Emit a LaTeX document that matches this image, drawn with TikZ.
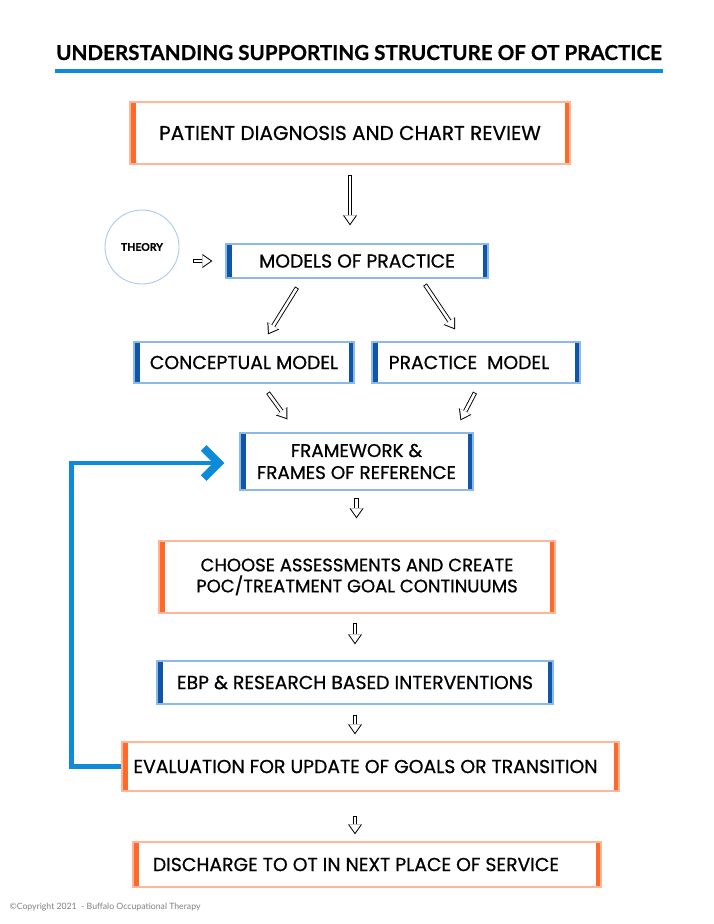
\documentclass[tikz,border=0pt]{standalone}
\usepackage{fontspec}
\newfontfamily\boxfont{Poppins}[FakeBold=0.7]
\newfontfamily\headfont{Lato}[BoldFeatures={FakeBold=0.6}]
\usetikzlibrary{arrows.meta,calc}
\definecolor{orng}{HTML}{FF6A2A}
\definecolor{orngpale}{HTML}{FFB699}
\definecolor{bluedark}{HTML}{0F55A8}
\definecolor{bluepale}{HTML}{8CB9E8}
\definecolor{bluefb}{HTML}{0D8ADA}
\definecolor{circpale}{HTML}{A9C9EA}
\tikzset{
  sidebars/.style={path picture={
    \fill[#1] (path picture bounding box.south west) rectangle ([xshift=5.5pt]path picture bounding box.north west);
    \fill[#1] (path picture bounding box.south east) rectangle ([xshift=-5.5pt]path picture bounding box.north east);}},
  box/.style={fill=white, line width=1.3pt, align=center, inner sep=0pt,
    font=\boxfont\fontsize{18.8}{24}\selectfont},
  obox/.style={box, draw=orngpale, sidebars=orng},
  bbox/.style={box, draw=bluepale, sidebars=bluedark},
  hollow/.style={line width=4.4pt, -{Triangle[length=10pt, width=14pt, line width=0pt]},
    postaction={draw=white, line width=2.6pt, shorten <=0.9pt, shorten >=1.7pt,
      -{Triangle[length=8.3pt, width=11.6pt, line width=0pt]}}},
  feedback/.style={bluefb, line width=4.5pt,
    -{Straight Barb[length=15pt, width=30pt, line width=8pt]}}
}
\begin{document}
\begin{tikzpicture}[x=1pt, y=-1pt]
  \useasboundingbox (0,0) rectangle (714,924);
  % title
  \node[anchor=base, font=\headfont\bfseries\fontsize{20.6}{24}\selectfont] (title) at (359,60)
    {UNDERSTANDING SUPPORTING STRUCTURE OF OT PRACTICE};
  \draw[bluefb, line width=4pt] (55,71) -- (663,71);
  % boxes
  \node[obox, minimum width=440, minimum height=62, font=\boxfont\fontsize{20}{24}\selectfont] (pat) at (350,133)
    {PATIENT DIAGNOSIS AND CHART REVIEW};
  \node[draw=circpale, line width=0.9pt, circle, minimum size=74,
    font=\headfont\bfseries\fontsize{10.5}{12}\selectfont] (theory) at (142,247) {THEORY};
  \node[bbox, minimum width=262, minimum height=34] (mod) at (357,261) {MODELS OF PRACTICE};
  \node[bbox, minimum width=220, minimum height=41] (con) at (244,362.5) {CONCEPTUAL MODEL};
  \node[bbox, minimum width=208, minimum height=41] (pra) at (476,362.5) {PRACTICE\ \ MODEL\kern14pt};
  \node[bbox, minimum width=233, minimum height=57, font=\boxfont\fontsize{18.4}{22}\selectfont] (fra) at (356.5,461.5)
    {FRAMEWORK \&\\FRAMES OF REFERENCE};
  \node[obox, minimum width=396, minimum height=72,
    font=\boxfont\fontsize{18}{21}\selectfont] (cho) at (357,577)
    {CHOOSE ASSESSMENTS AND CREATE\\POC/TREATMENT GOAL CONTINUUMS};
  \node[bbox, minimum width=396, minimum height=43] (ebp) at (355,682.5) {EBP \& RESEARCH BASED INTERVENTIONS};
  \node[obox, minimum width=497, minimum height=49] (eva) at (370.5,766.5)
    {EVALUATION FOR UPDATE OF GOALS OR TRANSITION\kern10pt};
  \node[obox, minimum width=468, minimum height=45] (dis) at (367,864.5)
    {DISCHARGE TO OT IN NEXT PLACE OF SERVICE\kern22pt};
  \node[anchor=west, text=gray, font=\headfont\fontsize{8.7}{10}\selectfont] (copy) at (6,907)
    {©Copyright 2021\ \ - Buffalo Occupational Therapy};
  % hollow arrows
  \draw[hollow] ($(pat.south)+(0,10)$) -- ($(pat.south |- mod.north)+(0,-18)$);
  \draw[hollow] ($(theory.east |- mod.west)+(14,0)$) -- ($(mod.west)+(-13,0)$);
  \draw[hollow] ($(mod.south)+(-60,9)$) -- ($(con.north)+(24,-7)$);
  \draw[hollow] ($(mod.south)+(68,6)$) -- ($(pra.north)+(-21,-12)$);
  \draw[hollow] ($(con.south)+(24,9)$) -- ($(fra.north)+(-69,-13)$);
  \draw[hollow] ($(pra.south)+(-1,9)$) -- ($(fra.north)+(104,-12)$);
  \draw[hollow] ($(fra.south)+(0,7)$) -- ($(fra.south |- cho.north)+(0,-22)$);
  \draw[hollow] ($(cho.south -| ebp.north)+(0,9)$) -- ($(ebp.north)+(0,-16)$);
  \draw[hollow] ($(ebp.south)+(0,10)$) -- ($(ebp.south |- eva.north)+(0,-7)$);
  \draw[hollow] ($(eva.south -| ebp.south)+(0,24)$) -- ($(ebp.south |- dis.north)+(0,-7)$);
  % feedback loop
  \draw[feedback] (eva.west) -- ++(-50,0) |- ($(fra.west)+(-15,1.5)$);
\end{tikzpicture}
\end{document}
